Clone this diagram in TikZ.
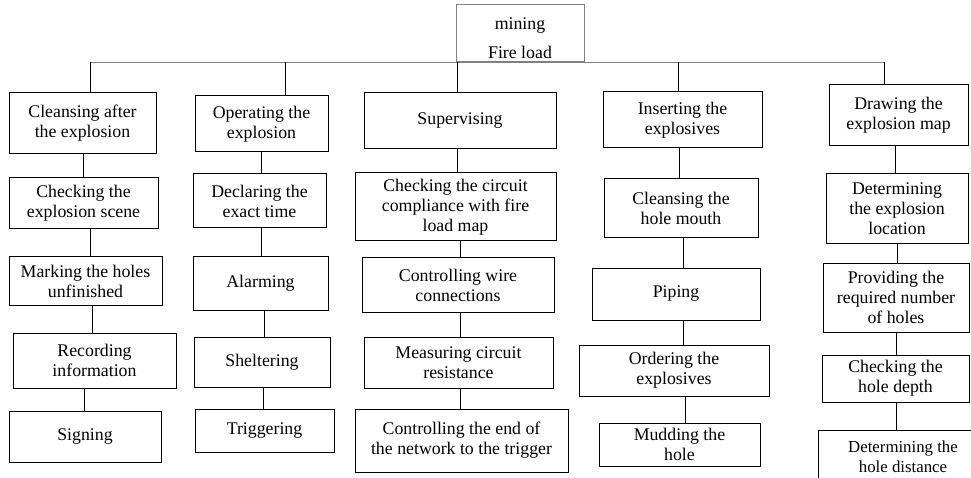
\documentclass[tikz,border=0pt]{standalone}
\usepackage{fontspec}
\setmainfont{Liberation Serif}
\begin{document}
\begin{tikzpicture}[x=1pt,y=-1pt,
  box/.style={draw,line width=1pt,rectangle,align=center,inner sep=2pt,
    font=\fontsize{17.8}{20}\selectfont},
  link/.style={line width=1pt}]
\useasboundingbox (0,0) rectangle (971,478);
\clip (0,0) rectangle (971,478);
% Top box
\node[box,draw=gray,minimum width=128,minimum height=57] (root) at (520,33.5) {\rule{0pt}{22pt}mining\\[9pt]Fire load};
% Cleansing column
\node[box,minimum width=147,minimum height=61] (c1a) at (82.5,123.5) {Cleansing after\\the explosion};
\node[box,minimum width=149,minimum height=51] (c1b) at (83.5,203.5) {Checking the\\explosion scene};
\node[box,minimum width=153,minimum height=48] (c1c) at (85.5,281) {Marking the holes\\unfinished};
\node[box,minimum width=163,minimum height=55] (c1d) at (94.5,360.5) {Recording\\information};
\node[box,minimum width=152,minimum height=51] (c1e) at (85,436.5) {Signing};
% Operating column
\node[box,minimum width=133,minimum height=56] (c2a) at (261.5,124) {Operating the\\explosion};
\node[box,minimum width=133,minimum height=54] (c2b) at (259.5,201) {Declaring the\\exact time};
\node[box,minimum width=135,minimum height=53] (c2c) at (260.5,283.5) {Alarming};
\node[box,minimum width=136,minimum height=50] (c2d) at (262,362) {Sheltering};
\node[box,minimum width=139,minimum height=43] (c2e) at (264.5,430.5) {Triggering};
% Supervising column
\node[box,minimum width=192,minimum height=56] (c3a) at (460,121) {Supervising};
\node[box,minimum width=201,minimum height=68] (c3b) at (455.5,207) {Checking the circuit\\compliance with fire\\load map};
\node[box,minimum width=192,minimum height=54] (c3c) at (458,285) {Controlling wire\\connections};
\node[box,minimum width=189,minimum height=51] (c3d) at (458.5,362.5) {Measuring circuit\\resistance};
\node[box,minimum width=213,minimum height=63] (c3e) at (461.5,440.5) {Controlling the end of\\the network to the trigger};
% Inserting column
\node[box,minimum width=159,minimum height=56] (c4a) at (682.5,120) {Inserting the\\explosives};
\node[box,minimum width=154,minimum height=59] (c4b) at (681,208.5) {Cleansing the\\hole mouth};
\node[box,minimum width=168,minimum height=52] (c4c) at (676,294) {Piping};
\node[box,minimum width=190,minimum height=51] (c4d) at (674,370.5) {Ordering the\\explosives};
\node[box,minimum width=161,minimum height=43] (c4e) at (679.5,444.5) {Mudding the\\hole};
% Drawing column
\node[box,minimum width=139,minimum height=61] (c5a) at (898.5,115.5) {Drawing the\\explosion map};
\node[box,minimum width=142,minimum height=70] (c5b) at (897,209) {Determining\\the explosion\\location};
\node[box,minimum width=146,minimum height=69] (c5c) at (896,297.5) {Providing the\\required number\\of holes};
\node[box,minimum width=147,minimum height=47] (c5d) at (895.5,378.5) {Checking the\\hole depth};
\node[box,font=\fontsize{16.8}{20}\selectfont,minimum width=170,anchor=north,inner ysep=10pt,text depth=40pt] (c5e) at (903,430) {Determining the\\hole distance};
% Bus under the top box
\coordinate (busL) at (90,0 |- root.south);
\coordinate (busR) at (884,0 |- root.south);
\draw[link,gray] (busL) -- (busR);
\foreach \n/\x in {c1a/90,c2a/285,c3a/457,c4a/678,c5a/884}
  \draw[link] (\n.north -| \x,0) -- (root.south -| \x,0);
% Links down each column
\foreach \a/\b/\x in {c1a/c1b/83,c1b/c1c/90,c1c/c1d/92,c1d/c1e/84,
    c2a/c2b/261,c2b/c2c/261,c2c/c2d/264,c2d/c2e/263,
    c3a/c3b/457,c3b/c3c/460,c3c/c3d/460,c3d/c3e/460,
    c4a/c4b/679,c4b/c4c/683,c4c/c4d/683,c4d/c4e/685,
    c5a/c5b/895,c5b/c5c/897,c5c/c5d/896,c5d/c5e/896}
  \draw[link] (\a.south -| \x,0) -- (\b.north -| \x,0);
\end{tikzpicture}
\end{document}
